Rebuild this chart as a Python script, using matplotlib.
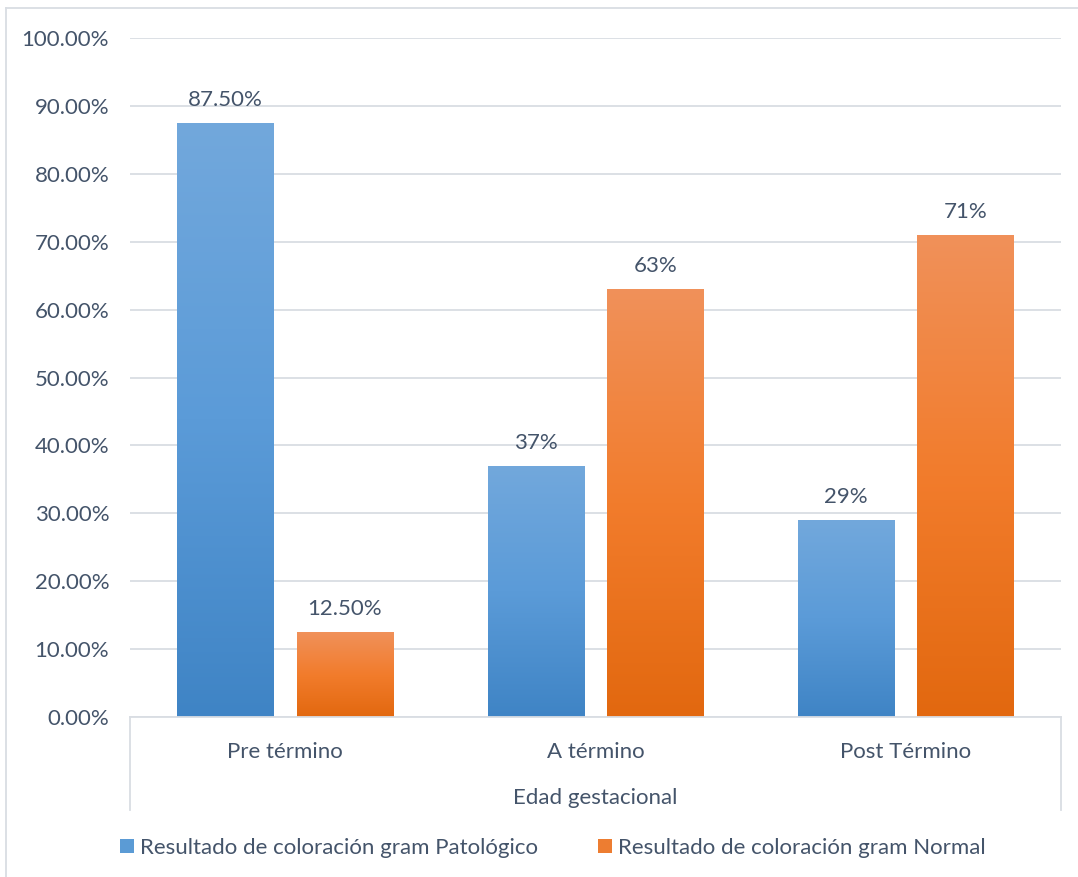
import numpy as np
import matplotlib.pyplot as plt
from matplotlib.patches import Patch
from matplotlib.lines import Line2D
from matplotlib.colors import LinearSegmentedColormap

# datos
categorias = ['Pre término', 'A término', 'Post Término']
patologico = [87.5, 37, 29]
normal = [12.5, 63, 71]
etiquetas_patologico = ['87.50%', '37%', '29%']
etiquetas_normal = ['12.50%', '63%', '71%']
series = ['Resultado de coloración gram Patológico', 'Resultado de coloración gram Normal']
yticks = np.arange(0, 101, 10)

texto = '#44546A'
gris = '#D9DDE3'
fs = 16
plt.rcParams['font.family'] = ['Lato', 'DejaVu Sans']

azul = LinearSegmentedColormap.from_list('azul', ['#3F84C5', '#5B9BD8', '#72A8DC'])
naranja = LinearSegmentedColormap.from_list('naranja', ['#E2680F', '#F27C2C', '#F0915A'])

fig = plt.figure(figsize=(10.78, 8.77), dpi=100)
W, H = 1078, 877
ax = fig.add_axes([130 / W, (H - 717) / H, (1061 - 130) / W, (717 - 38) / H])

x = np.arange(len(categorias))
ancho = 0.31
sep = 0.075
grad = np.linspace(0, 1, 256).reshape(-1, 1)


def barras(vals, pos, cmap, etiquetas):
    bars = ax.bar(pos, vals, width=ancho, color='none', edgecolor='none', zorder=2)
    for b, et in zip(bars, etiquetas):
        x0, y0 = b.get_x(), b.get_y()
        w, h = b.get_width(), b.get_height()
        im = ax.imshow(grad, cmap=cmap, origin='lower', aspect='auto',
                       extent=[x0, x0 + w, y0, y0 + h], zorder=2)
        im.set_clip_path(b)
        ax.text(x0 + w / 2, h + 1.9, et, ha='center', va='bottom',
                fontsize=fs, color=texto)
    return bars


barras(patologico, x - ancho / 2 - sep / 2, azul, etiquetas_patologico)
barras(normal, x + ancho / 2 + sep / 2, naranja, etiquetas_normal)

ax.set_xlim(-0.5, len(categorias) - 0.5)
ax.set_ylim(0, 100)
ax.set_yticks(yticks)
ax.set_yticklabels([f'{v:.2f}%' for v in yticks])
ax.set_xticks(x)
ax.set_xticklabels(categorias)
ax.tick_params(axis='both', length=0, labelsize=fs, labelcolor=texto)
ax.tick_params(axis='x', pad=18)
ax.tick_params(axis='y', pad=15)
ax.grid(axis='y', color=gris, linewidth=1.3, zorder=0)
ax.set_axisbelow(True)
for s in ['top', 'right', 'left']:
    ax.spines[s].set_visible(False)
ax.spines['bottom'].set_color(gris)
ax.spines['bottom'].set_linewidth(1.3)
ax.set_xlabel('Edad gestacional', fontsize=fs, color=texto, labelpad=19)

# caja del eje de categorias
prof = (810 - 717) / (717 - 38)
for xa in (0, 1):
    ax.add_line(Line2D([xa, xa], [0, -prof], transform=ax.transAxes,
                       color=gris, linewidth=1.3, clip_on=False))

# borde exterior
fig.add_artist(Line2D([6 / W, 6 / W], [0, 1 - 8 / H], color=gris, linewidth=1.3))
fig.add_artist(Line2D([6 / W, 1], [1 - 8 / H, 1 - 8 / H], color=gris, linewidth=1.3))

handles = [Patch(facecolor='#5B9BD5'), Patch(facecolor='#ED7D31')]
fig.legend(handles, series, loc='center', bbox_to_anchor=(553 / W, 29 / H), ncol=2,
           frameon=False, fontsize=fs, labelcolor=texto, handlelength=0.6,
           handleheight=0.6, handletextpad=0.3, columnspacing=2.7)

fig.savefig('out.png', dpi=100)
